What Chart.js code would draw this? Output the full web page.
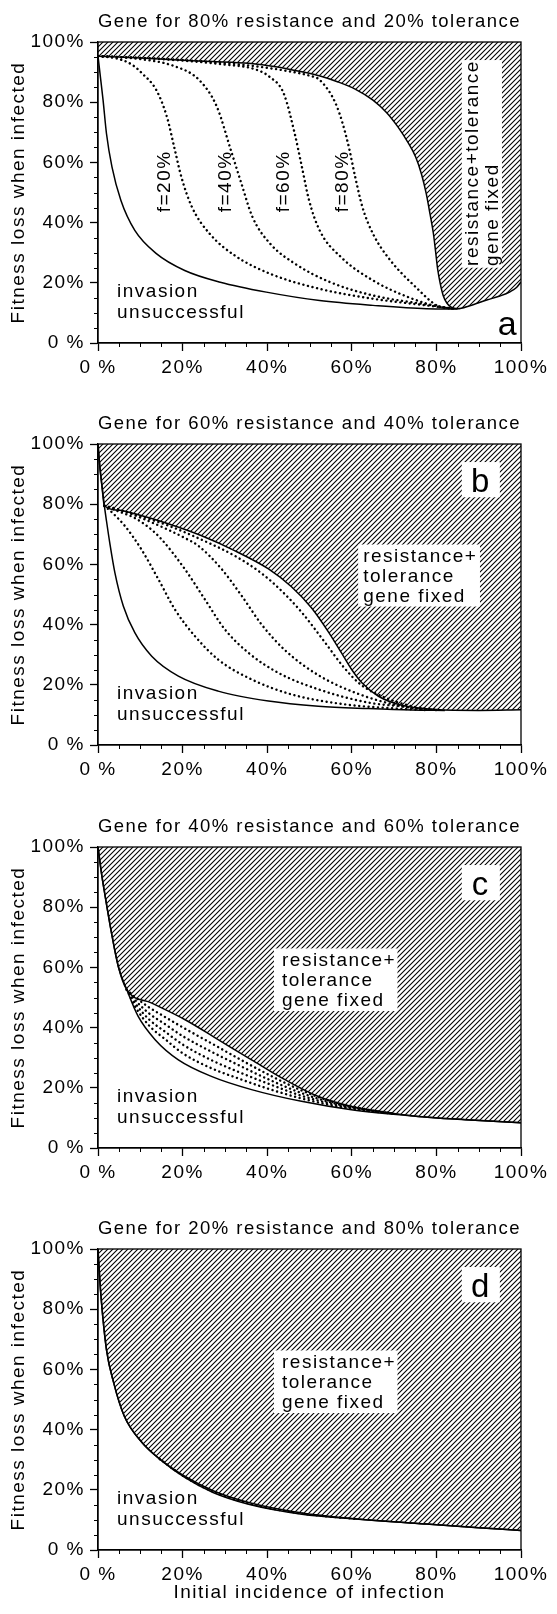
<!DOCTYPE html>
<html>
<head>
<meta charset="utf-8">
<script src="https://cdn.jsdelivr.net/npm/chart.js@4.4.1/dist/chart.umd.min.js"></script>
<style>
  html, body { margin: 0; padding: 0; background: #fff; }
  #wrap { position: relative; width: 557px; height: 1614px; overflow: hidden; }
  canvas { position: absolute; left: 0; }
</style>
</head>
<body>
<div id="wrap">
  <canvas id="pa" width="557" height="402" style="top:0px"></canvas>
  <canvas id="pb" width="557" height="403" style="top:402px"></canvas>
  <canvas id="pc" width="557" height="402" style="top:805px"></canvas>
  <canvas id="pd" width="557" height="407" style="top:1207px"></canvas>
</div>
<script>
// text
const panelTitles = [
  'Gene for 80% resistance and 20% tolerance',
  'Gene for 60% resistance and 40% tolerance',
  'Gene for 40% resistance and 60% tolerance',
  'Gene for 20% resistance and 80% tolerance'
];
const panelLetters = ['a', 'b', 'c', 'd'];
const xTickLabels = ['0 %', '20%', '40%', '60%', '80%', '100%'];
const yTickLabels = ['0 %', '20%', '40%', '60%', '80%', '100%'];
const fLabels = ['f=20%', 'f=40%', 'f=60%', 'f=80%'];
const yTitle = 'Fitness loss when infected';
const xTitle = 'Initial incidence of infection';

// panel a  [incidence %, fitness loss %]
const aUpper = [[0,95.3],[10,94.7],[18.8,94.0],[27,93.5],[35.6,92.9],[42,91.8],[48.2,90.1],[52.5,88.7],[56.6,86.8],[61,84.2],[65,80.7],[68.2,76.6],[70.9,71.8],[73.2,66.8],[75.1,61.8],[76.5,56],[77.6,49.6],[78.5,42.8],[79.3,36.3],[79.8,30.5],[80.3,24.5],[80.9,19.8],[81.6,15.8],[82.5,13.2],[83.6,11.8],[85,11.4],[87.9,12.4],[91.9,14.3],[95,15.6],[97.4,17],[99,18.5],[100,20.3]];
const aLower = [[0,95.3],[0.6,88],[1.2,80.7],[2.0,69.6],[3.3,58.5],[5.4,47.4],[8.7,37.4],[13.8,29.7],[20.5,24.1],[28.9,20.2],[39.8,16.9],[52.4,14.1],[65,12.5],[77.6,11.4],[85,11.3]];
const aF20 = [[0,95.3],[4.5,94.5],[8,92.5],[10.4,89.6],[13.8,84],[16.3,75.1],[18,65.2],[19.7,55.2],[22.2,45.2],[26.4,36.3],[32.3,29.1],[40.7,23],[52.4,18],[65,14.7],[77.6,12.5],[84,11.4]];
const aF40 = [[0,95.3],[10,94.3],[18,92],[23.9,87.4],[28.1,78.5],[31.4,64.1],[33.9,53],[36.5,41.9],[40.7,33],[46.5,26.4],[54.9,20.2],[65,15.8],[77.6,12.8],[84,11.4]];
const aF60 = [[0,95.3],[15,94.3],[30,92.5],[37,91],[40.5,88.5],[43.9,82.9],[46.5,69.6],[48.2,58.5],[49.9,47.4],[52.4,37.4],[57.4,28.6],[65,20.8],[73.4,15.2],[81,11.9],[84,11.4]];
const aF80 = [[0,95.3],[20,94],[35,92.3],[45,90.3],[50,88.8],[52.4,87.4],[56.5,78.5],[59.1,66.3],[60.8,55.2],[62.5,45.2],[65,36.3],[69.1,27.5],[75.1,18.6],[80.1,12.5],[84,11.4]];

// panel b
const bUpper = [[0,100],[0.4,93],[0.9,86.5],[1.5,79.5],[5,78],[8.7,76.8],[16.6,73.5],[24.5,69.5],[32.4,64.5],[40.3,58.5],[45.8,52.5],[50.5,45.5],[54.5,37.5],[57.6,30.5],[60,25],[62.5,20.5],[66.3,16.2],[71.8,13.2],[79.7,11.8],[90,11.5],[100,11.7]];
const bLower = [[0,100],[0.4,93],[0.9,86.5],[1.5,79.5],[2,74.5],[2.8,67],[4,57.2],[6,46.1],[8.7,37.3],[12.7,29.5],[19,22.9],[28.4,17.9],[40.3,14.6],[52.1,12.9],[63.9,12.1],[74.2,11.6],[82,11.5]];
const bF20 = [[1.5,79.5],[3.5,77],[6.4,72.7],[10.3,64.9],[14.3,55],[18.2,45],[22.9,36.2],[28.4,28.4],[36.3,21.8],[45.8,16.8],[58.4,13.5],[69.5,12.2],[78,11.6]];
const bF40 = [[1.5,79.5],[4.5,77.8],[8.7,75.4],[12,72.3],[15.1,68.2],[20.6,58.3],[25.3,48.3],[30,38.4],[35.5,30.7],[42.6,24],[52.1,18.5],[63.9,14.1],[71.8,12.8],[79,11.6]];
const bF60 = [[1.5,79.5],[5,78.2],[8.7,76.3],[16.6,71.5],[20.5,68.8],[23.7,66.2],[29.2,58.5],[34,49.5],[38.7,40],[44.2,31.5],[52.1,23.2],[61.5,17],[71.8,12.9],[80,11.6]];
const bF80 = [[1.5,79.5],[5,78.1],[8.7,76.6],[16.6,72.9],[24.5,68.2],[32.4,62.8],[38.7,57],[43.4,51.2],[48.2,44],[53.7,34],[58,26],[62,20.2],[67.8,15.8],[74.2,12.9],[81,11.6]];

// panel c
const cUpper = [[0,100],[0.8,91.5],[1.65,84],[3.2,71.4],[4.8,60.3],[6.8,52.6],[12.6,48.2],[20.6,42.6],[28.4,36],[36.3,29.3],[44.2,22.7],[52.1,17.1],[60,13.8],[67.8,11.9],[75.7,10.5],[87,9.4],[100,8.4]];
const cLower = [[0,100],[0.8,91.5],[1.65,84],[3.2,71.4],[4.8,60.3],[6.8,52.6],[9.5,43.7],[13.5,36],[19,29.3],[26.8,23.8],[36.3,19.4],[48.1,15.5],[59.9,12.7],[75.7,10.5],[87,9.4],[100,8.4]];
const cF20 = [[6.8,52.6],[9,46.5],[12,40.8],[16,36],[20,31.5],[26.8,26.5],[33,23.2],[40,19.8],[48,16.5],[56,14],[64,12.3],[70,11.4]];
const cF40 = [[6.8,52.6],[9,47.7],[12,42.8],[16,38.5],[20,34.4],[26.8,29.2],[33,25.4],[40,21.5],[48,17.4],[56,14.4],[64,12.4],[70,11.4]];
const cF60 = [[6.8,52.6],[9,48.8],[12,44.8],[16,41],[20,37.2],[26.8,32],[33,27.7],[40,23],[48,18.3],[56,14.8],[64,12.6],[70,11.4]];
const cF80 = [[6.8,52.6],[9,49.9],[12,46.8],[16,43.4],[20,40.1],[26.8,34.8],[33,29.9],[40,24.6],[48,19.2],[56,15.1],[64,12.7],[70,11.4]];

// panel d
const dUpper = [[0,100],[0.35,91.5],[0.77,83.2],[2,66.6],[3.7,55.6],[6.2,44.5],[10.4,35.7],[14.6,30.2],[20.5,24.5],[27.2,19.7],[35.6,15.8],[48.2,12.3],[60.8,10.4],[77.6,8.6],[90,7.4],[100,6.5]];
const dLower = [[0,100],[0.35,91.5],[0.77,83.2],[2,66.6],[3.7,55.6],[6.2,44.5],[10.4,35.7],[14.6,30.2],[20.5,24.1],[27.2,19.1],[35.6,15.2],[48.2,11.9],[60.8,10.3],[77.6,8.6],[90,7.4],[100,6.5]];
const dF50 = [[14.6,30.2],[20.5,24.3],[27.2,19.4],[35.6,15.5],[48.2,12.1],[60.8,10.35]];

const FONT = "'Liberation Sans', Arial, Helvetica, sans-serif";
const FS = 19;
Chart.defaults.font.family = FONT;
Chart.defaults.font.size = FS;
Chart.defaults.color = '#000';

const PLOT_LEFT = 98, PLOT_RIGHT = 521, PLOT_BOTTOM = 343;

function hatchPattern() {
  const c = document.createElement('canvas');
  c.width = 5; c.height = 5;
  const g = c.getContext('2d');
  g.strokeStyle = '#000';
  g.lineWidth = 1.1;
  g.beginPath();
  g.moveTo(-1, 6); g.lineTo(6, -1);
  g.moveTo(-1, 1); g.lineTo(1, -1);
  g.moveTo(4, 6); g.lineTo(6, 4);
  g.stroke();
  return g.createPattern(c, 'repeat');
}
const HATCH = hatchPattern();

const toXY = pts => pts.map(p => ({ x: p[0], y: p[1] }));

function solid(pts, extra) {
  return Object.assign({
    data: toXY(pts), borderColor: '#000', borderWidth: 1.5, pointRadius: 0,
    fill: false, cubicInterpolationMode: 'monotone', order: 1
  }, extra);
}
function dotted(pts) {
  return solid(pts, { borderWidth: 2.4, borderDash: [0.1, 4.6], borderCapStyle: 'round', order: 0 });
}

// frame, minor ticks, text boxes
function decor(notes) {
  return {
    id: 'decor',
    beforeDraw(chart) { chart.ctx.letterSpacing = '1.5px'; },
    afterDatasetsDraw(chart) {
      const { ctx, chartArea: ca, scales: { x, y } } = chart;
      ctx.save();
      ctx.strokeStyle = '#000';
      ctx.lineWidth = 1.3;
      ctx.strokeRect(ca.left, ca.top, ca.right - ca.left, ca.bottom - ca.top);
      ctx.lineWidth = 1;
      ctx.beginPath();
      for (let v = 5; v < 100; v += 5) {
        if (v % 20 === 0) continue;
        const px = Math.round(x.getPixelForValue(v)) + 0.5;
        ctx.moveTo(px, ca.bottom); ctx.lineTo(px, ca.bottom + 4);
        const py = Math.round(y.getPixelForValue(v)) + 0.5;
        ctx.moveTo(ca.left, py); ctx.lineTo(ca.left - 4, py);
      }
      ctx.stroke();
      ctx.restore();

      notes.forEach(n => {
        if (n.box) {
          const [x0, y0, x1, y1] = n.box;
          const px0 = x.getPixelForValue(x0), px1 = x.getPixelForValue(x1);
          const py0 = y.getPixelForValue(y0), py1 = y.getPixelForValue(y1);
          ctx.fillStyle = '#fff';
          ctx.fillRect(Math.min(px0, px1), Math.min(py0, py1), Math.abs(px1 - px0), Math.abs(py1 - py0));
        }
        if (n.text) {
          ctx.save();
          ctx.fillStyle = '#000';
          ctx.font = (n.size || FS) + 'px ' + FONT;
          ctx.textAlign = n.align || 'left';
          ctx.textBaseline = n.baseline || 'middle';
          ctx.translate(x.getPixelForValue(n.at[0]), y.getPixelForValue(n.at[1]));
          if (n.rotate) ctx.rotate(-Math.PI / 2);
          n.text.forEach((t, i) => ctx.fillText(t, 0, i * (n.gap || 20)));
          ctx.restore();
        }
      });
    }
  };
}

const invasion = { text: ['invasion', 'unsuccessful'], at: [4.5, 17], gap: 21 };
const letterNote = i => [
  { box: [86, 82.3, 95, 94] },
  { text: [panelLetters[i]], at: [90.5, 84.2], align: 'center', baseline: 'alphabetic', size: 33 }
];

const panels = [
  {
    id: 'pa', h: 402, upper: aUpper, lower: aLower, dots: [aF20, aF40, aF60, aF80],
    notes: [
      invasion,
      { box: [86, 25, 95.5, 94] },
      { text: ['resistance+tolerance', 'gene fixed'], at: [88.6, 25.6], rotate: true, gap: 20 },
      { text: [fLabels[0]], at: [15.8, 53.7], rotate: true, align: 'center' },
      { text: [fLabels[1]], at: [30.2, 53.7], rotate: true, align: 'center' },
      { text: [fLabels[2]], at: [43.9, 53.7], rotate: true, align: 'center' },
      { text: [fLabels[3]], at: [57.9, 53.7], rotate: true, align: 'center' },
      { text: [panelLetters[0]], at: [96.9, 2.8], align: 'center', baseline: 'alphabetic', size: 34 }
    ]
  },
  {
    id: 'pb', h: 403, upper: bUpper, lower: bLower, dots: [bF20, bF40, bF60, bF80],
    notes: [
      invasion,
      { box: [61.5, 46, 90.3, 66.6] },
      { text: ['resistance+', 'tolerance', 'gene fixed'], at: [62.7, 62.7], gap: 20 }
    ].concat(letterNote(1))
  },
  {
    id: 'pc', h: 402, upper: cUpper, lower: cLower, dots: [cF20, cF40, cF60, cF80],
    notes: [
      invasion,
      { box: [41.6, 45.5, 70.8, 66.3] },
      { text: ['resistance+', 'tolerance', 'gene fixed'], at: [43.5, 62.3], gap: 20 }
    ].concat(letterNote(2))
  },
  {
    id: 'pd', h: 407, upper: dUpper, lower: dLower, dots: [dF50], xTitle: true,
    notes: [
      invasion,
      { box: [41.6, 45.5, 70.8, 66.3] },
      { text: ['resistance+', 'tolerance', 'gene fixed'], at: [43.5, 62.3], gap: 20 }
    ].concat(letterNote(3))
  }
];

panels.forEach((p, i) => {
  const datasets = [
    solid(p.upper, { fill: 'end', backgroundColor: HATCH, order: 10 }),
    solid(p.lower)
  ].concat(p.dots.map(dotted));

  new Chart(document.getElementById(p.id), {
    type: 'line',
    data: { datasets },
    options: {
      responsive: false,
      devicePixelRatio: 1,
      animation: false,
      events: [],
      layout: { padding: { left: 0, right: 557 - PLOT_RIGHT, top: 0, bottom: 0 }, autoPadding: false },
      plugins: {
        legend: { display: false },
        tooltip: { enabled: false },
        title: {
          display: true, text: panelTitles[i], align: 'end', fullSize: false,
          font: { size: FS, weight: 'normal' }, color: '#000',
          padding: { top: 10.6, bottom: 8.6 }
        }
      },
      scales: {
        x: {
          type: 'linear', min: 0, max: 100, position: 'bottom',
          ticks: { stepSize: 20, padding: 5, maxRotation: 0, autoSkip: false,
                   callback: v => xTickLabels[Math.round(v / 20)] },
          grid: { drawOnChartArea: false, drawTicks: true, tickLength: 8, tickWidth: 1.3, tickColor: '#000' },
          border: { display: true, color: '#000', width: 1.3 },
          title: { display: !!p.xTitle, text: xTitle, font: { size: FS }, color: '#000',
                   padding: { top: 0, bottom: 9.5 } },
          afterFit: s => { s.height = p.h - PLOT_BOTTOM; }
        },
        y: {
          type: 'linear', min: 0, max: 100,
          ticks: { stepSize: 20, padding: 5, callback: v => yTickLabels[Math.round(v / 20)] },
          grid: { drawOnChartArea: false, drawTicks: true, tickLength: 8, tickWidth: 1.3, tickColor: '#000' },
          border: { display: true, color: '#000', width: 1.3 },
          title: { display: true, text: yTitle, font: { size: FS }, color: '#000',
                   padding: { top: 7.5, bottom: 0 } },
          afterFit: s => { s.width = PLOT_LEFT; }
        }
      }
    },
    plugins: [decor(p.notes)]
  });
});
</script>
</body>
</html>
